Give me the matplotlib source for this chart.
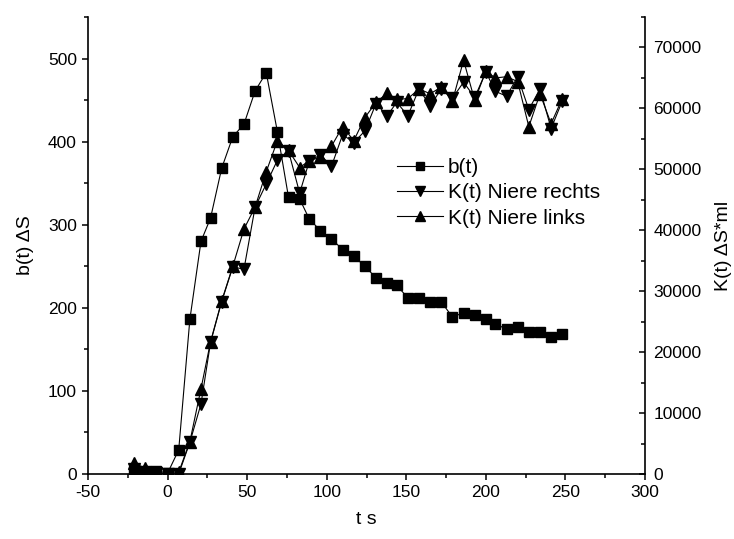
import matplotlib
matplotlib.use("agg")
import matplotlib.pyplot as plt
from matplotlib.ticker import MultipleLocator

plt.rcParams['font.family'] = ['Liberation Sans', 'DejaVu Sans']
plt.rcParams['axes.unicode_minus'] = False

# time points (s)
t = [-21, -14, -7, 0, 7, 14, 21, 27, 34, 41, 48, 55, 62, 69, 76, 83, 89, 96,
     103, 110, 117, 124, 131, 138, 144, 151, 158, 165, 172, 179, 186, 193,
     200, 206, 213, 220, 227, 234, 241, 248]

# b(t) in dS (left axis)
b = [4, 2, 4, 1, 29, 186, 280, 308, 368, 406, 421, 461, 483, 412, 333, 331,
     307, 293, 283, 270, 262, 250, 236, 230, 227, 212, 212, 207, 207, 189,
     194, 191, 187, 181, 174, 177, 171, 171, 165, 168]

# K(t) in dS*ml (right axis)
k_rechts = [900, 300, 150, 0, 0, 5200, 11500, 21600, 28300, 34000, 33600,
            43800, 47600, 51500, 53000, 46100, 51300, 52400, 50500, 55700,
            54400, 56300, 60800, 58800, 61000, 58800, 63200, 60400, 63200,
            61700, 64300, 61800, 66000, 62800, 62000, 65200, 59800, 63200,
            56700, 61200]
k_links = [1800, 950, 300, 0, 300, 5300, 14000, 21700, 28400, 34100, 40200,
           43800, 49600, 54700, 53100, 50300, 51400, 52000, 53800, 57000,
           54700, 58500, 61000, 62500, 61500, 61600, 63200, 62400, 63500,
           61200, 67900, 61300, 66100, 65000, 65200, 64400, 57000, 62400,
           57500, 61600]

fig = plt.figure(figsize=(7.34, 5.39), dpi=100)
ax = fig.add_axes([88 / 734, 65 / 539, 557 / 734, 457 / 539])
ax2 = ax.twinx()

lw = 0.8
h1, = ax.plot(t, b, "-", color="black", lw=lw, marker="s", ms=7.5,
              mfc="black", mec="black", label="b(t)")
h2, = ax2.plot(t, k_rechts, "-", color="black", lw=lw, marker="v", ms=9,
               mfc="black", mec="black", label="K(t) Niere rechts")
h3, = ax2.plot(t, k_links, "-", color="black", lw=lw, marker="^", ms=9,
               mfc="black", mec="black", label="K(t) Niere links")

ax.set_xlim(-50, 300)
ax.set_ylim(0, 550)
ax2.set_ylim(0, 75000)

ax.xaxis.set_major_locator(MultipleLocator(50))
ax.xaxis.set_minor_locator(MultipleLocator(25))
ax.yaxis.set_major_locator(MultipleLocator(100))
ax.yaxis.set_minor_locator(MultipleLocator(50))
ax2.yaxis.set_major_locator(MultipleLocator(10000))
ax2.yaxis.set_minor_locator(MultipleLocator(5000))

for a in (ax, ax2):
    a.spines['top'].set_visible(False)
    for s in a.spines.values():
        s.set_linewidth(1.2)
ax.spines['right'].set_visible(False)
ax2.spines['left'].set_visible(False)
ax2.spines['bottom'].set_visible(False)

ax.tick_params(axis="both", which="major", direction="out", length=4.5,
               width=1.1, labelsize=12.5, top=False, right=False)
ax.tick_params(axis="both", which="minor", direction="out", length=3,
               width=1.1, top=False, right=False)
ax2.tick_params(axis="y", which="major", direction="in", length=4.5,
                width=1.1, labelsize=12.5, pad=6)
ax2.tick_params(axis="y", which="minor", direction="in", length=3, width=1.1)

ax.set_xlabel("t s", fontsize=14, labelpad=8)
ax.set_ylabel("b(t) \u0394S", fontsize=14, labelpad=10)
ax2.set_ylabel("K(t) \u0394S*ml", fontsize=14, labelpad=10)

fig.legend(handles=[h1, h2, h3], loc="upper left",
           bbox_to_anchor=(397 / 734, 1 - 158 / 539), frameon=False,
           fontsize=15, borderpad=0, borderaxespad=0, handlelength=2.2,
           handletextpad=0.25, labelspacing=0.3, numpoints=1, markerscale=0.75)

fig.savefig("out.png", dpi=100)
